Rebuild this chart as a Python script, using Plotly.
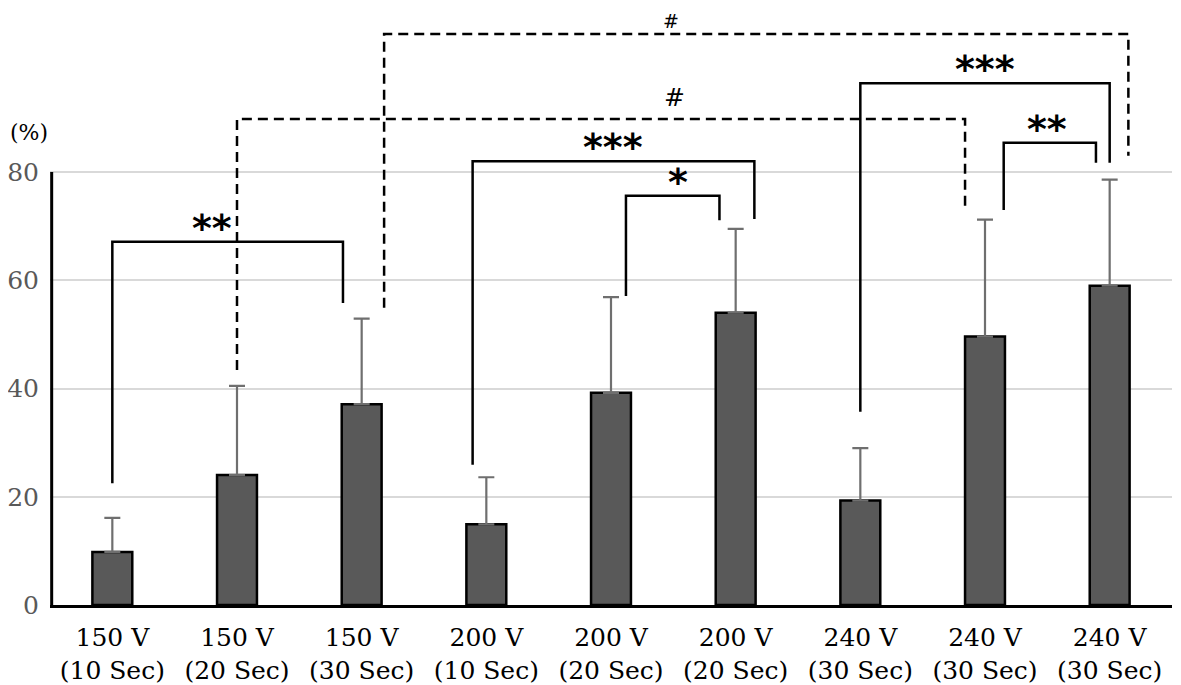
import plotly.graph_objects as go

# ---- data ----
line1 = ["150 V", "150 V", "150 V", "200 V", "200 V", "200 V", "240 V", "240 V", "240 V"]
line2 = ["(10 Sec)", "(20 Sec)", "(30 Sec)", "(10 Sec)", "(20 Sec)", "(20 Sec)", "(30 Sec)", "(30 Sec)", "(30 Sec)"]
means = [9.8, 24.0, 37.1, 14.9, 39.2, 54.0, 19.3, 49.6, 59.0]
err_plus = [6.3, 16.5, 15.8, 8.7, 17.7, 15.5, 9.7, 21.6, 19.6]
y_ticks = [0, 20, 40, 60, 80]

# significance brackets: x_left, y_left_bottom, x_right, y_right_bottom, y_top, dashed
brackets = [
    (0.0, 22.5, 1.85, 55.8, 67.1, False),
    (1.0, 43.4, 6.84, 73.0, 89.8, True),
    (2.18, 54.9, 8.15, 83.0, 105.5, True),
    (2.89, 25.9, 5.15, 71.3, 82.0, False),
    (4.12, 57.1, 4.87, 71.1, 75.6, False),
    (6.0, 35.7, 8.0, 81.7, 96.4, False),
    (7.15, 73.0, 7.89, 81.7, 85.4, False),
]
# labels: text, x, y
bracket_labels = [
    ("**", 0.80, 67.1),
    ("#", 4.51, 89.8),
    ("#", 4.48, 105.5),
    ("***", 4.02, 82.0),
    ("*", 4.54, 75.6),
    ("***", 7.0, 96.4),
    ("**", 7.5, 85.4),
]

x_idx = list(range(len(means)))
tick_text = [f"{a}<br>{b}" for a, b in zip(line1, line2)]

# figure geometry (page body adds an 8px offset)
W, H = 1173, 677
ML, MR, MT, MB = 42, 9, 2, 80
plot_h = H - MT - MB
y_top = plot_h / 5.4125

fig = go.Figure()
fig.add_trace(go.Bar(
    x=x_idx, y=means, width=0.32,
    marker=dict(color="#595959", line=dict(color="black", width=2.5)),
    error_y=dict(type="data", symmetric=False, array=err_plus,
                 arrayminus=[0] * len(means), color="#6f6f6f",
                 thickness=2.2, width=8),
    showlegend=False, hoverinfo="skip",
))

shapes = []
for xl, yl, xr, yr, yt, dashed in brackets:
    path = f"M {xl},{yl} L {xl},{yt} L {xr},{yt} L {xr},{yr}"
    shapes.append(dict(type="path", path=path, xref="x", yref="y",
                       line=dict(color="black", width=2.5,
                                 dash="10px,6px" if dashed else "solid"),
                       layer="above"))
# y axis line from 0 to 80
shapes.append(dict(type="line", xref="paper", yref="y", x0=0.0015, x1=0.0015,
                   y0=0, y1=y_ticks[-1], line=dict(color="black", width=3)))

annotations = []
for txt, x, y in bracket_labels:
    if txt == "#":
        near_top = y > 100
        annotations.append(dict(x=x, y=y, xref="x", yref="y", text=txt,
                                showarrow=False, yanchor="middle",
                                yshift=13 if near_top else 21,
                                font=dict(family="DejaVu Sans", size=19 if near_top else 25,
                                          color="black")))
    else:
        annotations.append(dict(x=x, y=y, xref="x", yref="y", text="<b>" + txt + "</b>",
                                showarrow=False, yanchor="bottom", yshift=-10,
                                font=dict(family="DejaVu Sans", size=38, color="black")))
annotations.append(dict(x=(21 - ML) / (W - ML - MR), y=(H - MB - 124) / plot_h,
                        xref="paper", yref="paper", text="(%)",
                        showarrow=False, xanchor="center", yanchor="middle",
                        font=dict(family="DejaVu Serif", size=22, color="black")))

fig.update_layout(
    width=W, height=H,
    margin=dict(l=ML, r=MR, t=MT, b=MB),
    plot_bgcolor="white", paper_bgcolor="white",
    shapes=shapes, annotations=annotations,
    xaxis=dict(range=[-0.5, 8.5], tickmode="array", tickvals=x_idx, ticktext=tick_text,
               showgrid=False, zeroline=False, showline=True, linecolor="black", linewidth=3,
               ticks="", automargin=False, ticklabelstandoff=8,
               tickfont=dict(family="DejaVu Serif", size=25, color="black")),
    yaxis=dict(range=[0, y_top], tickmode="array", tickvals=y_ticks,
               showgrid=True, gridcolor="#d9d9d9", gridwidth=2, zeroline=False,
               showline=False, ticks="", ticklabelstandoff=10, automargin=False,
               tickfont=dict(family="DejaVu Serif", size=25, color="#595959")),
)

fig.write_html("out.html")
